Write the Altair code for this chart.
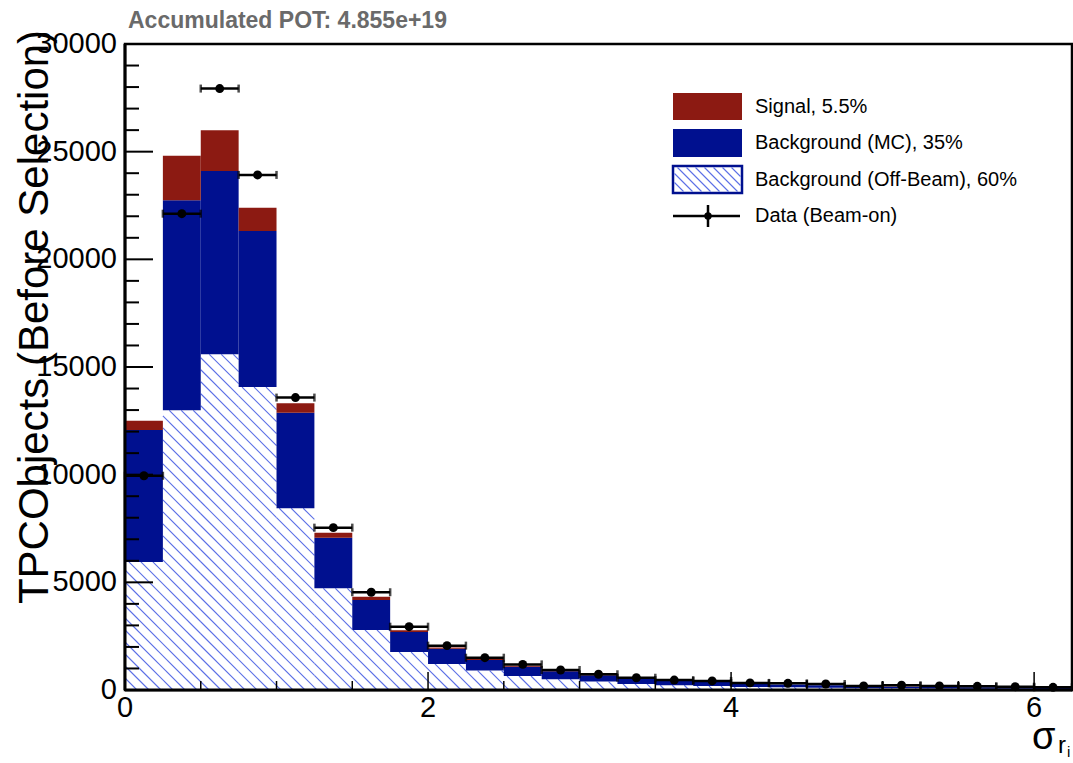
import altair as alt
import pandas as pd
import numpy as np

# ---------------- data ----------------
bin_edges = [0.0, 0.25, 0.5, 0.75, 1.0, 1.25, 1.5, 1.75, 2.0, 2.25, 2.5, 2.75, 3.0,
             3.25, 3.5, 3.75, 4.0, 4.25, 4.5, 4.75, 5.0, 5.25, 5.5, 5.75, 6.0, 6.25]
offbeam = [5950, 12990, 15590, 14070, 8440, 4720, 2790, 1760, 1210, 900, 650, 500, 390,
           280, 220, 185, 140, 125, 108, 80, 78, 70, 62, 55, 46]
mc_bkg = [6120, 9750, 8510, 7250, 4440, 2350, 1390, 930, 700, 490, 430, 370, 290,
          260, 215, 185, 140, 125, 110, 80, 78, 70, 62, 55, 46]
signal = [430, 2070, 1890, 1080, 440, 230, 150, 80, 60, 50, 45, 30, 25,
          20, 15, 12, 10, 8, 7, 5, 5, 4, 4, 3, 3]
data_on = [9950, 22120, 27930, 23920, 13580, 7540, 4540, 2940, 2060, 1500, 1190, 930, 730,
           570, 460, 420, 330, 310, 280, 190, 220, 190, 170, 155, 125]

y_major = [0, 5000, 10000, 15000, 20000, 25000, 30000]
y_labels = ["0", "5000", "10000", "15000", "20000", "25000", "30000"]
x_major = [0, 2, 4, 6]
x_labels = ["0", "2", "4", "6"]
legend_labels = ["Signal, 5.5%", "Background (MC), 35%",
                 "Background (Off-Beam), 60%", "Data (Beam-on)"]
title_text = "Accumulated POT: 4.855e+19"
y_title = "TPCObjects (Before Selection)"

RED = "#8c1a12"
BLUE = "#00108f"
HATCH = "#5b6fe6"
FONT = "Liberation Sans"

W, H = 947, 646
XMAX, YMAX = 6.25, 30000

# ---------------- tables ----------------
lo = np.array(bin_edges[:-1])
hi = np.array(bin_edges[1:])
off = np.array(offbeam, dtype=float)
mc = np.array(mc_bkg, dtype=float)
sig = np.array(signal, dtype=float)
dat = np.array(data_on, dtype=float)

df = pd.DataFrame({
    "lo": lo, "hi": hi, "center": (lo + hi) / 2,
    "zero": 0.0,
    "s1": off, "s2": off + mc, "s3": off + mc + sig,
    "data": dat, "dlo": dat - np.sqrt(dat), "dhi": dat + np.sqrt(dat),
})

# hatch segments for the off-beam histogram (45 degree lines in screen space)
sx, sy = W / XMAX, H / YMAX
spacing = 12.0
segs = []
for a_d, b_d, t_d in zip(lo, hi, off):
    a, b, top = a_d * sx, b_d * sx, t_d * sy
    for k in np.arange(0, W + H + spacing, spacing):
        p0 = max(a, k - top)
        p1 = min(b, k)
        if p1 > p0:
            segs.append({"hx": p0 / sx, "hy": (k - p0) / sy,
                         "hx2": p1 / sx, "hy2": (k - p1) / sy})
hatch_df = pd.DataFrame(segs)

xs = alt.Scale(domain=[0, XMAX], nice=False, zero=False)
ys = alt.Scale(domain=[0, YMAX], nice=False)


def X(f):
    return alt.X(f, scale=xs, axis=None)


def Y(f):
    return alt.Y(f, scale=ys, axis=None)


base = alt.Chart(df)

off_rect = base.mark_rect(fill="white").encode(x=X("lo:Q"), x2="hi:Q", y=Y("zero:Q"), y2="s1:Q")
hatch = alt.Chart(hatch_df).mark_rule(strokeWidth=1.1).encode(
    x=X("hx:Q"), x2="hx2:Q", y=Y("hy:Q"), y2="hy2:Q",
    color=alt.value(HATCH))
mc_rect = base.mark_rect(fill=BLUE).encode(x=X("lo:Q"), x2="hi:Q", y=Y("s1:Q"), y2="s2:Q")
sig_rect = base.mark_rect(fill=RED).encode(x=X("lo:Q"), x2="hi:Q", y=Y("s2:Q"), y2="s3:Q")

# data points with error bars
herr = base.mark_rule(color="black", strokeWidth=2.5).encode(x=X("lo:Q"), x2="hi:Q", y=Y("data:Q"))
verr = base.mark_rule(color="black", strokeWidth=2.5).encode(x=X("center:Q"), y=Y("dlo:Q"), y2="dhi:Q")
cap_lo = base.mark_tick(color="black", orient="vertical", size=8, thickness=2.5).encode(
    x=X("lo:Q"), y=Y("data:Q"))
cap_hi = base.mark_tick(color="black", orient="vertical", size=8, thickness=2.5).encode(
    x=X("hi:Q"), y=Y("data:Q"))
pts = base.mark_circle(color="black", size=80, opacity=1).encode(x=X("center:Q"), y=Y("data:Q"))

# frame lines (left / bottom heavier)
left_line = alt.Chart(pd.DataFrame({"a": [0]})).mark_rule(color="black", strokeWidth=3).encode(
    x=alt.value(0), y=alt.value(0), y2=alt.value(H))
bottom_line = alt.Chart(pd.DataFrame({"a": [0]})).mark_rule(color="black", strokeWidth=3).encode(
    x=alt.value(0), x2=alt.value(W), y=alt.value(H))

# ROOT-style inward ticks
y_minor = [v for v in range(0, YMAX + 1, 1000) if v not in y_major]
x_minor = [v / 2 for v in range(1, 13) if (v / 2) not in x_major]
ydf = pd.DataFrame({"v": y_major, "lab": y_labels})
xdf = pd.DataFrame({"v": x_major, "lab": x_labels})
ytk_major = alt.Chart(ydf).mark_rule(color="black", strokeWidth=2).encode(
    y=Y("v:Q"), x=alt.value(0), x2=alt.value(28))
ytk_minor = alt.Chart(pd.DataFrame({"v": y_minor})).mark_rule(color="black", strokeWidth=2).encode(
    y=Y("v:Q"), x=alt.value(0), x2=alt.value(14))
xtk_major = alt.Chart(xdf).mark_rule(color="black", strokeWidth=1.5).encode(
    x=X("v:Q"), y=alt.value(H), y2=alt.value(H - 18))
xtk_minor = alt.Chart(pd.DataFrame({"v": x_minor})).mark_rule(color="black", strokeWidth=1.5).encode(
    x=X("v:Q"), y=alt.value(H), y2=alt.value(H - 9))
ylab = alt.Chart(ydf).mark_text(align="right", baseline="middle", font=FONT, fontSize=29,
                                color="black").encode(y=Y("v:Q"), x=alt.value(-8), text="lab:N")
xlab = alt.Chart(xdf).mark_text(align="center", baseline="top", font=FONT, fontSize=29,
                                color="black").encode(x=X("v:Q"), y=alt.value(H + 4), text="lab:N")

# titles
title = alt.Chart(pd.DataFrame({"t": [title_text]})).mark_text(
    align="left", baseline="alphabetic", font=FONT, fontSize=23, fontWeight="bold",
    color="#6a6a6a").encode(x=alt.value(3), y=alt.value(-16), text="t:N")
ytitle = alt.Chart(pd.DataFrame({"t": [y_title]})).mark_text(
    align="center", baseline="alphabetic", font=FONT, fontSize=42, angle=270,
    color="black").encode(x=alt.value(-77), y=alt.value(273), text="t:N")
sigma = alt.Chart(pd.DataFrame({"t": ["σ"]})).mark_text(
    align="left", baseline="alphabetic", font=FONT, fontSize=38, color="black"
).encode(x=alt.value(907), y=alt.value(705), text="t:N")
sub_r = alt.Chart(pd.DataFrame({"t": ["r"]})).mark_text(
    align="left", baseline="alphabetic", font=FONT, fontSize=24, color="black"
).encode(x=alt.value(933), y=alt.value(709), text="t:N")
sub_i = alt.Chart(pd.DataFrame({"t": ["i"]})).mark_text(
    align="left", baseline="alphabetic", font=FONT, fontSize=15, color="black"
).encode(x=alt.value(942), y=alt.value(713), text="t:N")

# legend
LX0, LX1, TX = 548, 617, 630
box_y = [(49, 76), (85, 113), (122, 149)]
leg = []
leg.append(alt.Chart(pd.DataFrame({"a": [0]})).mark_rect(fill=RED).encode(
    x=alt.value(LX0), x2=alt.value(LX1), y=alt.value(box_y[0][0]), y2=alt.value(box_y[0][1])))
leg.append(alt.Chart(pd.DataFrame({"a": [0]})).mark_rect(fill=BLUE).encode(
    x=alt.value(LX0), x2=alt.value(LX1), y=alt.value(box_y[1][0]), y2=alt.value(box_y[1][1])))
leg.append(alt.Chart(pd.DataFrame({"a": [0]})).mark_rect(fill="white", stroke=BLUE, strokeWidth=2.5).encode(
    x=alt.value(LX0), x2=alt.value(LX1), y=alt.value(box_y[2][0]), y2=alt.value(box_y[2][1])))
lsegs = []
bx0, bx1, by0, by1 = LX0 + 1.5, LX1 - 1.5, box_y[2][0] + 1.5, box_y[2][1] - 1.5
for c in np.arange(bx0 - (by1 - by0), bx1, 9.0):
    p0 = max(bx0, c)
    p1 = min(bx1, c + (by1 - by0))
    if p1 > p0:
        lsegs.append({"lx": p0, "ly": by0 + (p0 - c), "lx2": p1, "ly2": by0 + (p1 - c)})
leg.append(alt.Chart(pd.DataFrame(lsegs)).mark_rule(strokeWidth=1.1).encode(
    x=alt.X("lx:Q", scale=None, axis=None), x2="lx2:Q",
    y=alt.Y("ly:Q", scale=None, axis=None), y2="ly2:Q",
    color=alt.value(HATCH)))
leg.append(alt.Chart(pd.DataFrame({"a": [0]})).mark_rule(color="black", strokeWidth=2.5).encode(
    x=alt.value(LX0), x2=alt.value(615), y=alt.value(172)))
leg.append(alt.Chart(pd.DataFrame({"a": [0]})).mark_rule(color="black", strokeWidth=2.5).encode(
    x=alt.value(583), y=alt.value(161), y2=alt.value(183)))
leg.append(alt.Chart(pd.DataFrame({"a": [0]})).mark_circle(color="black", size=55, opacity=1).encode(
    x=alt.value(583), y=alt.value(172)))
leg_text = alt.Chart(pd.DataFrame({"t": legend_labels, "yy": [63, 99, 136, 172]})).mark_text(
    align="left", baseline="middle", font=FONT, fontSize=20, color="black"
).encode(x=alt.value(TX), y=alt.Y("yy:Q", scale=None, axis=None), text="t:N")

chart = alt.layer(
    off_rect, hatch, mc_rect, sig_rect,
    ytk_major, ytk_minor, xtk_major, xtk_minor, left_line, bottom_line,
    herr, verr, cap_lo, cap_hi, pts,
    ylab, xlab, title, ytitle, sigma, sub_r, sub_i,
    *leg, leg_text,
).properties(
    width=W, height=H,
    padding={"left": 125, "top": 44, "right": 1, "bottom": 73},
    autosize=alt.AutoSizeParams(type="none"),
    background="white",
).configure_view(stroke="black", strokeWidth=2.5)

chart.save("out.html", embed_options={"renderer": "svg", "actions": False})
